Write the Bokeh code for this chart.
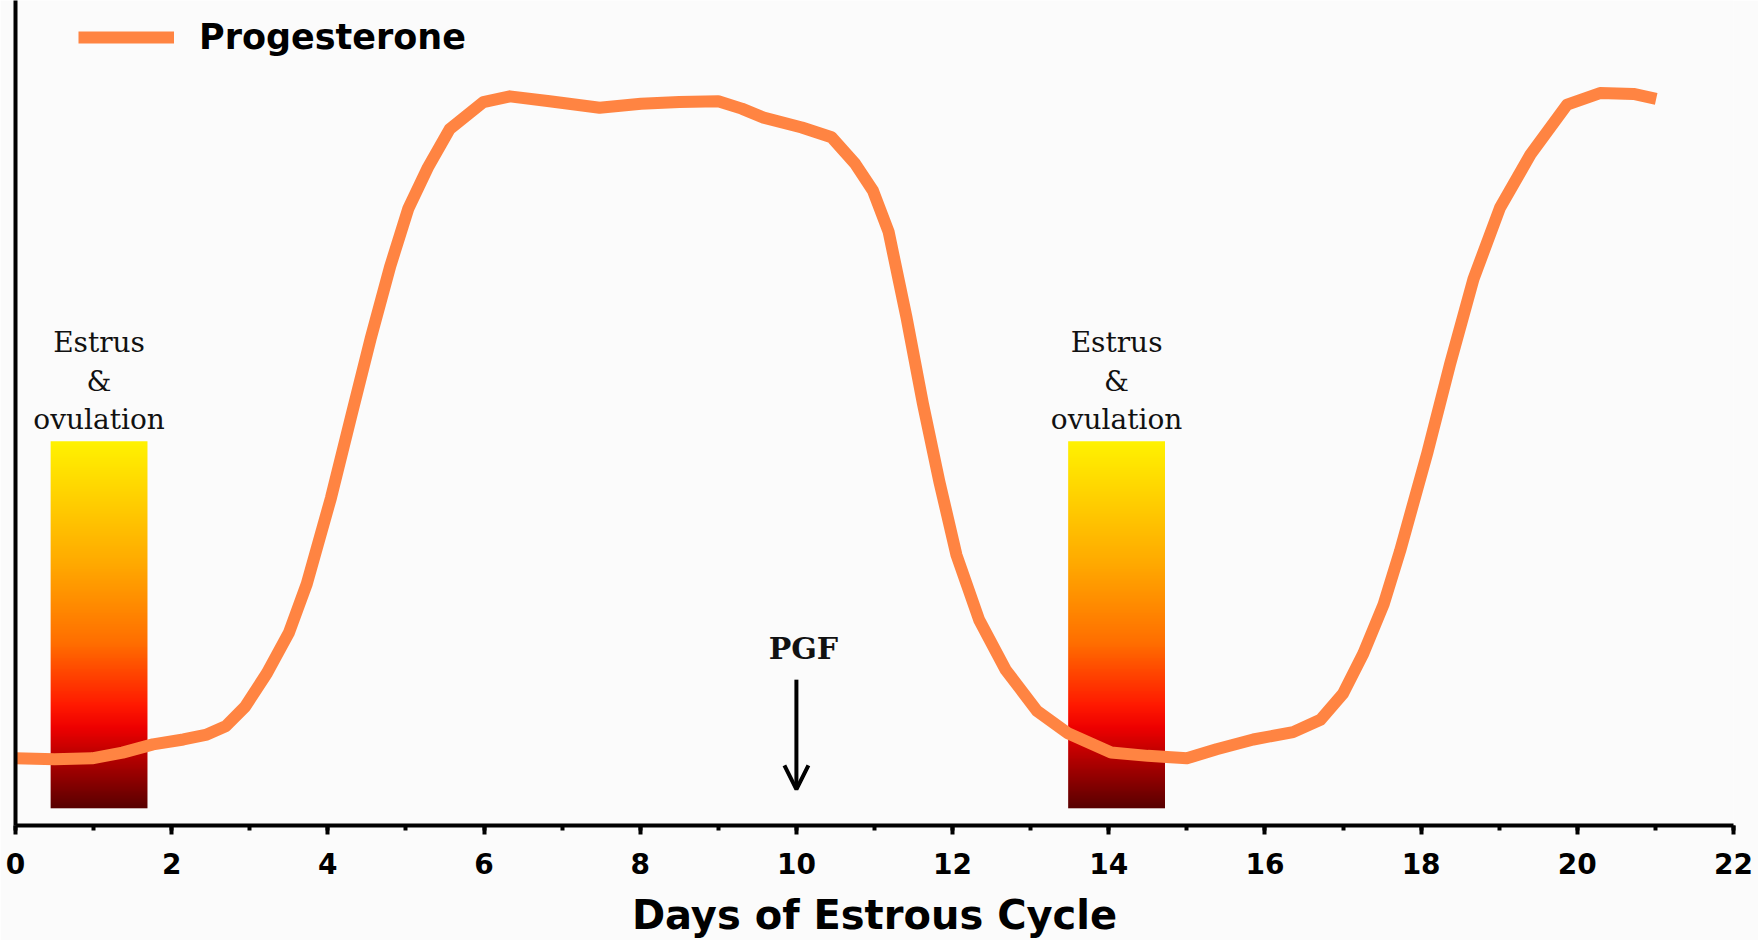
import numpy as np
from bokeh.plotting import figure
from bokeh.models import (Range1d, SingleIntervalTicker, FixedTicker, Arrow,
                          OpenHead, Legend, LegendItem)
from bokeh.core.properties import value
from bokeh.embed import file_html
from bokeh.resources import INLINE

# ---------------- data ----------------
days = [0.0, 0.5, 0.98, 1.37, 1.76, 2.15, 2.45, 2.69, 2.94, 3.22, 3.5, 3.73,
        4.04, 4.3, 4.55, 4.8, 5.03, 5.28, 5.56, 5.99, 6.33, 6.84, 7.48, 8.01,
        8.5, 9.0, 9.3, 9.58, 10.07, 10.45, 10.75, 10.98, 11.18, 11.41, 11.62,
        11.83, 12.05, 12.34, 12.68, 13.08, 13.47, 14.03, 14.5, 15.0, 15.38,
        15.85, 16.36, 16.71, 17.0, 17.26, 17.52, 17.73, 18.08, 18.37, 18.67,
        19.01, 19.4, 19.87, 20.29, 20.72, 21.01]
progesterone = [8.2, 8.1, 8.2, 8.9, 9.9, 10.5, 11.1, 12.1, 14.5, 18.6, 23.5,
                29.5, 40.0, 50.0, 59.5, 68.3, 75.3, 80.3, 85.0, 88.3, 89.0,
                88.4, 87.6, 88.1, 88.3, 88.4, 87.5, 86.4, 85.2, 84.0, 80.8,
                77.5, 72.5, 62.0, 51.5, 42.0, 33.0, 25.1, 19.0, 14.0, 11.3,
                8.9, 8.5, 8.2, 9.3, 10.5, 11.4, 12.9, 16.1, 21.0, 27.0, 33.5,
                45.5, 56.3, 66.7, 75.4, 81.9, 88.0, 89.4, 89.3, 88.7]

estrus_start = [0.45, 13.48]
estrus_end = [1.69, 14.72]
estrus_low = 2.1
estrus_high = 46.9
estrus_text = ["Estrus", "&", "ovulation"]

pgf_day = 10
pgf_from = 17.8
pgf_to = 4.4

x_ticks_major = 2
x_max = 22
y_max = 100.7

# ---------------- styling helpers ----------------
grad_stops = [(0.0, (255, 242, 0)), (0.33, (255, 170, 0)), (0.55, (255, 110, 0)),
              (0.72, (255, 25, 0)), (0.78, (238, 0, 0)), (1.0, (88, 0, 0))]


def grad_rgb(t):
    for (t0, c0), (t1, c1) in zip(grad_stops[:-1], grad_stops[1:]):
        if t0 <= t <= t1:
            f = (t - t0) / (t1 - t0)
            return [round(a + (b - a) * f) for a, b in zip(c0, c1)]
    return list(grad_stops[-1][1])


BG = "#fbfbfb"
ORANGE = "#FF8442"

p = figure(width=1758, height=940, output_backend="svg", toolbar_location=None,
           x_range=Range1d(0, x_max), y_range=Range1d(0, y_max),
           min_border_left=15, min_border_right=25, min_border_top=0,
           min_border_bottom=0,
           background_fill_color=BG, border_fill_color=BG)
p.outline_line_color = None
p.grid.visible = False

# gradient bars (vertical gradient images)
H = 400
img = np.zeros((H, 1), dtype=np.uint32)
view = img.view(dtype=np.uint8).reshape((H, 1, 4))
for i in range(H):
    view[i, 0, :3] = grad_rgb(1 - (i + 0.5) / H)
    view[i, 0, 3] = 255
for s, e in zip(estrus_start, estrus_end):
    p.image_rgba(image=[img], x=s, y=estrus_low, dw=e - s,
                 dh=estrus_high - estrus_low)

# estrus labels
cx, cy, ctxt, coff = [], [], [], []
offsets = [-99, -60, -22]
for s, e in zip(estrus_start, estrus_end):
    for txt, off in zip(estrus_text, offsets):
        cx.append((s + e) / 2)
        cy.append(estrus_high)
        ctxt.append(txt)
        coff.append(off)
p.text(x=cx, y=cy, text=ctxt, y_offset=coff, text_align="center",
       text_baseline="middle", text_font=value("DejaVu Serif"),
       text_font_size="28px", text_color="#111111")

# progesterone curve
line = p.line(days, progesterone, line_color=ORANGE, line_width=12,
              line_join="round", line_cap="butt")

# PGF arrow
p.add_layout(Arrow(x_start=pgf_day, y_start=pgf_from, x_end=pgf_day, y_end=pgf_to,
                   line_width=4, line_color="black",
                   end=OpenHead(size=24, line_width=4, line_color="black")))
p.text(x=[pgf_day], y=[pgf_from], text=["PGF"], x_offset=7, y_offset=-31,
       text_align="center", text_baseline="middle",
       text_font=value("DejaVu Serif"), text_font_style="bold",
       text_font_size="30px", text_color="#111111")

# legend
legend = Legend(items=[LegendItem(label="Progesterone", renderers=[line])],
                location=(63, 768), padding=0, margin=0, spacing=0,
                glyph_width=96, glyph_height=40, label_standoff=25,
                label_text_font="DejaVu Sans", label_text_font_style="bold",
                label_text_font_size="35px", label_text_color="black",
                background_fill_alpha=0, border_line_color=None)
p.add_layout(legend)

# x axis
xa = p.xaxis[0]
xa.ticker = SingleIntervalTicker(interval=x_ticks_major, num_minor_ticks=2)
xa.axis_line_width = 4
xa.axis_line_color = "black"
xa.major_tick_line_width = 4
xa.major_tick_out = 9
xa.major_tick_in = 0
xa.minor_tick_line_width = 4
xa.minor_tick_out = 5
xa.minor_tick_in = 0
xa.major_label_text_font = "DejaVu Sans"
xa.major_label_text_font_style = "bold"
xa.major_label_text_font_size = "28px"
xa.major_label_text_color = "black"
xa.major_label_standoff = 18
xa.axis_label = "Days of Estrous Cycle"
xa.axis_label_text_font = "DejaVu Sans"
xa.axis_label_text_font_style = "bold"
xa.axis_label_text_font_size = "40px"
xa.axis_label_text_color = "black"
xa.axis_label_standoff = 15

# y axis: bare line
ya = p.yaxis[0]
ya.ticker = FixedTicker(ticks=[])
ya.axis_line_width = 4
ya.axis_line_color = "black"
ya.major_tick_out = 0
ya.major_tick_in = 0
ya.minor_tick_out = 0
ya.minor_tick_in = 0
ya.major_label_text_font_size = "0px"
ya.major_label_standoff = 0

open("out.html", "w").write(file_html(p, INLINE))
